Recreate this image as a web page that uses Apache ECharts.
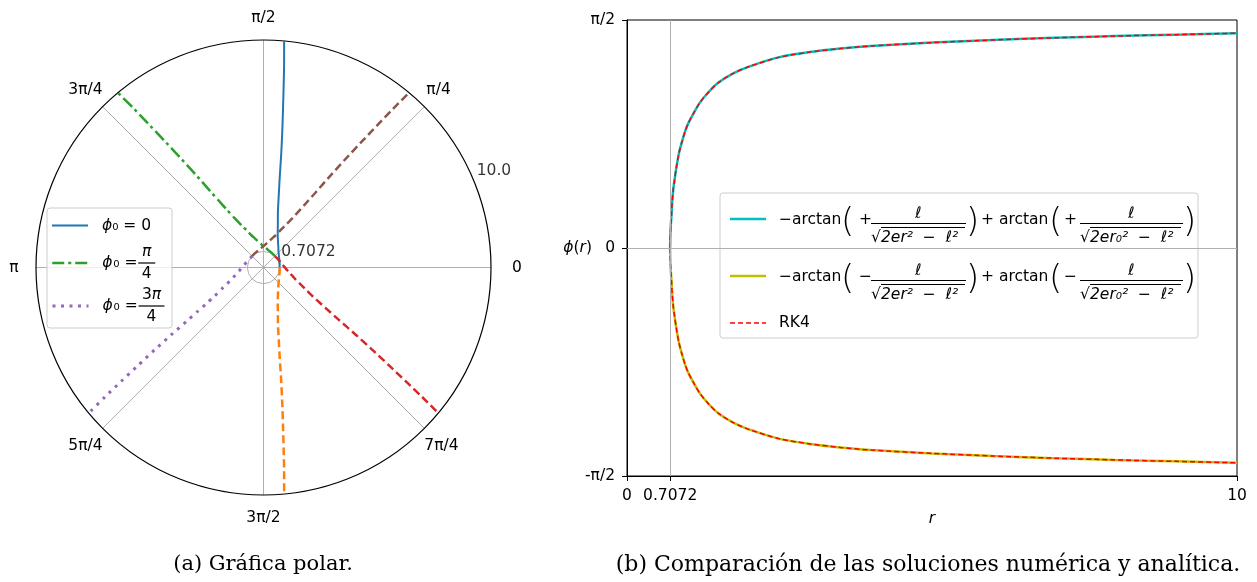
<!DOCTYPE html>
<html><head><meta charset="utf-8">
<script src="https://cdn.jsdelivr.net/npm/echarts@6/dist/echarts.min.js"></script>
<style>html,body{margin:0;padding:0;background:#fff}#c{width:1257px;height:582px}</style>
</head><body><div id="c"></div>
<script>
// ---------------- data ----------------
const r0 = 0.7072;
const rValues  = [0.7072, 0.71, 0.715, 0.72, 0.73, 0.74, 0.76, 0.78, 0.80, 0.85, 0.90, 0.95, 1.0, 1.1, 1.2, 1.35, 1.5, 1.75, 2.0, 2.5, 3.0, 3.5, 4.0, 5.0, 6.0, 7.0, 8.0, 9.0, 10.0];
const phiPlus  = [0, 0.08, 0.13, 0.17, 0.23, 0.31, 0.41, 0.47, 0.53, 0.65, 0.73, 0.80, 0.855, 0.935, 1.005, 1.08, 1.14, 1.205, 1.25, 1.315, 1.35, 1.374, 1.392, 1.415, 1.433, 1.448, 1.46, 1.47, 1.48];
const phiMinus = [0, -0.08, -0.13, -0.17, -0.23, -0.31, -0.41, -0.47, -0.53, -0.65, -0.73, -0.80, -0.855, -0.935, -1.005, -1.08, -1.14, -1.205, -1.25, -1.315, -1.35, -1.374, -1.392, -1.415, -1.433, -1.448, -1.46, -1.47, -1.48];
const rk4Plus  = [0, 0.08, 0.13, 0.17, 0.23, 0.31, 0.41, 0.47, 0.53, 0.65, 0.73, 0.80, 0.855, 0.935, 1.005, 1.08, 1.14, 1.205, 1.25, 1.315, 1.35, 1.374, 1.392, 1.415, 1.433, 1.448, 1.46, 1.47, 1.48];
const rk4Minus = [0, -0.08, -0.13, -0.17, -0.23, -0.31, -0.41, -0.47, -0.53, -0.65, -0.73, -0.80, -0.855, -0.935, -1.005, -1.08, -1.14, -1.205, -1.25, -1.315, -1.35, -1.374, -1.392, -1.415, -1.433, -1.448, -1.46, -1.47, -1.48];
const phi0Deg = [0, 45, 135];
const angleTickLabels = ['0', 'π/4', 'π/2', '3π/4', 'π', '5π/4', '3π/2', '7π/4'];
const rTickValues = [0.7072, 10.0];
const rTickLabels = ['0.7072', '10.0'];
const rLabelAngle = 22.5;
const xTickValues = [0, 0.7072, 10];
const xTickLabels = ['0', '0.7072', '10'];
const yTickLabels = ['-π/2', '0', 'π/2'];
const captions = ['(a) Gráfica polar.', '(b) Comparación de las soluciones numérica y analítica.'];

// ---------------- helpers ----------------
const FF = 'DejaVu Sans';
const FS = 15.5;
const DEG = 180 / Math.PI;
const norm = a => ((a % 360) + 360) % 360;
function traj(phi0, branch) { return rValues.map((r, i) => [r, norm(phi0 + branch[i] * DEG)]); }

const rich = {};
let kid = 0;
function T(text, st) {
  const k = 'k' + (kid++);
  rich[k] = Object.assign({ fontFamily: FF, fontSize: FS, color: '#000' }, st || {});
  return '{' + k + '|' + text + '}';
}
const BAR = (w, lh) => ({ width: w, height: 1.2, lineHeight: lh, backgroundColor: '#000' });

// left legend texts
function leftSimple() {
  return T(' ', { width: 9 }) + T('ϕ', { fontStyle: 'italic' }) + T('₀ = 0', {});
}
function leftFrac(numParts, den, bw) {
  let l1 = T(' ', { width: 45, lineHeight: 20 });
  numParts.forEach(p => { l1 += T(p[0], { align: 'center', lineHeight: 20, fontStyle: p[1] ? 'italic' : 'normal' }); });
  const l2 = T(' ', { width: 9, lineHeight: 2 }) + T('ϕ', { width: 11, lineHeight: 2, fontStyle: 'italic' }) +
             T('₀ =', { width: 25, lineHeight: 2 }) + T(' ', BAR(bw, 2));
  const l3 = T(' ', { width: 45, lineHeight: 20 }) + T(den, { align: 'center', lineHeight: 20 });
  return l1 + '\n' + l2 + '\n' + l3;
}
const leftLegendText = {
  'p0': leftSimple(),
  'p45': leftFrac([['π', true]], '4', 17),
  'p135': leftFrac([['3', false], ['π', true]], '4', 26)
};

// right legend texts
const W = { sp: 8, a1: 62, p1: 18, s1: 12, b1: 95, p2: 15, a2: 68, p3: 15, s2: 16, b2: 103, p4: 12 };
const PAREN = { fontSize: 34, fontWeight: 200, lineHeight: 4 };
function rightEntry(sign, den1, den2) {
  const pre = W.sp + W.a1 + W.p1 + W.s1;
  const mid = W.p2 + W.a2 + W.p3 + W.s2;
  const l1 = T(' ', { width: pre, lineHeight: 26 }) +
    T('ℓ', { width: W.b1, align: 'center', lineHeight: 26, fontStyle: 'italic', padding: [11, 0, 0, 0] }) +
    T(' ', { width: mid, align: 'center', lineHeight: 26 }) +
    T('ℓ', { width: W.b2, align: 'center', lineHeight: 26, fontStyle: 'italic', padding: [11, 0, 0, 0] }) +
    T(' ', { width: W.p4, align: 'center', lineHeight: 26 });
  const up = { lineHeight: 4, padding: [0, 0, 7, 0] };
  const l2 = T(' ', { width: W.sp, lineHeight: 4 }) +
    T('−arctan', Object.assign({ width: W.a1 }, up)) +
    T('(', Object.assign({ width: W.p1 }, PAREN)) +
    T(sign, Object.assign({ width: W.s1 }, up)) +
    T(' ', BAR(W.b1, 4)) +
    T(')', Object.assign({ width: W.p2 }, PAREN)) +
    T('+ arctan', Object.assign({ width: W.a2 }, up)) +
    T('(', Object.assign({ width: W.p3 }, PAREN)) +
    T(sign, Object.assign({ width: W.s2 }, up)) +
    T(' ', BAR(W.b2, 4)) +
    T(')', Object.assign({ width: W.p4 }, PAREN));
  const l2b = T(' ', { width: pre + 10, lineHeight: 4 }) + T(' ', BAR(84, 4)) +
    T(' ', { width: 1 + mid + 10, lineHeight: 4 }) + T(' ', BAR(91, 4)) + T(' ', { width: 2 + W.p4, lineHeight: 4 });
  const dn = { lineHeight: 13, padding: [3, 0, 0, 0] };
  const l3 = T(' ', { width: pre, lineHeight: 13 }) +
    T('√', Object.assign({ width: 10 }, dn)) +
    T(den1, Object.assign({ width: 85, fontStyle: 'italic' }, dn)) +
    T(' ', { width: mid, lineHeight: 13 }) +
    T('√', Object.assign({ width: 10 }, dn)) +
    T(den2, Object.assign({ width: 93, fontStyle: 'italic' }, dn)) +
    T(' ', { width: W.p4, lineHeight: 13 });
  return l1 + '\n' + l2 + '\n' + l2b + '\n' + l3;
}
const rightLegendText = {
  'plus': rightEntry('+', '2er²  −  ℓ²', '2er₀²  −  ℓ²'),
  'minus': rightEntry('−', '2er²  −  ℓ²', '2er₀²  −  ℓ²'),
  'RK4': T(' ', { width: 8 }) + T('RK4', {})
};

// angle-axis label styles (padding emulates centred placement)
const angRich = {
  e:  { padding: [0, 0, 0, 21] },
  n:  { padding: [0, 0, 14, 0] },
  w:  { padding: [0, 17.5, 0, 0] },
  s:  { padding: [15, 0, 0, 0] },
  ne: { padding: [0, 0, 8.5, 2] },
  nw: { padding: [0, 0, 8.5, 0] },
  sw: { padding: [9.5, 0, 0, 0] },
  se: { padding: [9.5, 0, 0, 0] }
};
Object.keys(angRich).forEach(k => Object.assign(angRich[k], { fontFamily: FF, fontSize: FS, color: '#000' }));
const angStyle = ['e', 'ne', 'n', 'nw', 'w', 'sw', 's', 'se'];

// ---------------- series ----------------
const polarDefs = [
  { name: 'p0',    phi0: phi0Deg[0], br: phiPlus,  color: '#1f77b4', type: 'solid',        width: 2 },
  { name: 'p0m',   phi0: phi0Deg[0], br: phiMinus, color: '#ff7f0e', type: [8, 4],         width: 2.5 },
  { name: 'p45',   phi0: phi0Deg[1], br: phiPlus,  color: '#2ca02c', type: [12, 4, 3, 4],  width: 2.5 },
  { name: 'p45m',  phi0: phi0Deg[1], br: phiMinus, color: '#d62728', type: [8, 4],         width: 2.5 },
  { name: 'p135',  phi0: phi0Deg[2], br: phiPlus,  color: '#9467bd', type: [3, 5.5],       width: 3 },
  { name: 'p135m', phi0: phi0Deg[2], br: phiMinus, color: '#8c564b', type: [8, 4],         width: 2.5 }
];
const series = polarDefs.map(d => ({
  name: d.name, type: 'line', coordinateSystem: 'polar', polarIndex: 0,
  data: traj(d.phi0, d.br), symbol: 'none', showSymbol: false, z: 2, smooth: 0.25,
  lineStyle: { color: d.color, width: d.width, type: d.type }, itemStyle: { color: d.color }
}));
series.push({
  name: 'rlabels', type: 'scatter', coordinateSystem: 'polar', polarIndex: 0,
  data: rTickValues.map((v, i) => ({ value: [v, rLabelAngle], label: { formatter: rTickLabels[i] } })),
  symbolSize: 1, itemStyle: { color: 'rgba(0,0,0,0)' }, z: 2, silent: true,
  label: { show: true, position: 'right', distance: 2.5, offset: [0, -9], color: '#000', fontFamily: FF, fontSize: FS }
});
series.push({
  name: 'guides', type: 'line', xAxisIndex: 0, yAxisIndex: 0, data: [[r0, 0]], symbol: 'none', showSymbol: false,
  lineStyle: { width: 0 }, z: 1, silent: true,
  markLine: { silent: true, symbol: ['none', 'none'], label: { show: false }, animation: false,
    lineStyle: { color: '#b0b0b0', width: 1, type: 'solid' }, emphasis: { disabled: true },
    data: [{ yAxis: 0 }, { xAxis: r0 }] }
});
const cart = [
  { name: 'plus',  d: phiPlus,  color: '#00bfbf', width: 2.5, type: 'solid' },
  { name: 'minus', d: phiMinus, color: '#bfbf00', width: 2.5, type: 'solid' },
  { name: 'RK4',   d: rk4Plus,  color: '#ff0000', width: 1.5, type: [5, 3] },
  { name: 'RK4',   d: rk4Minus, color: '#ff0000', width: 1.5, type: [5, 3] }
];
cart.forEach(c => series.push({
  name: c.name, type: 'line', xAxisIndex: 0, yAxisIndex: 0,
  data: rValues.map((r, i) => [r, c.d[i]]), symbol: 'none', showSymbol: false, z: 2,
  smooth: 0.25,
  lineStyle: { color: c.color, width: c.width, type: c.type }, itemStyle: { color: c.color }
}));

const axisText = { color: '#000', fontFamily: FF, fontSize: FS };
function mkLegend(name, left, iconY, H, lw, fmt, dy) {
  return {
    orient: 'vertical', left: left, top: iconY - H / 2 + dy, itemWidth: 36, itemHeight: H, padding: 0, itemGap: 0,
    selectedMode: false, z: 4, itemStyle: { opacity: 0 },
    data: [{ name: name, lineStyle: { width: lw } }], formatter: fmt,
    textStyle: { fontFamily: FF, fontSize: FS, color: '#000', rich: rich }
  };
}
const lf = n => leftLegendText[n];
const rf = n => rightLegendText[n];
const frame = (x, y, w, h) => ({ type: 'rect', z: 3, shape: { x: x, y: y, width: w, height: h, r: 3 },
  style: { fill: 'rgba(255,255,255,0.8)', stroke: '#cccccc', lineWidth: 1 } });

const option = {
  animation: false,
  textStyle: { fontFamily: FF },
  polar: [{ center: [263.5, 267.5], radius: 227.5 }],
  angleAxis: [{
    polarIndex: 0, type: 'value', min: 0, max: 360, interval: 45, startAngle: 0, clockwise: false,
    axisLine: { show: true, lineStyle: { color: '#000', width: 1.2 } },
    axisTick: { show: false },
    axisLabel: Object.assign({ margin: 0, rich: angRich,
      formatter: v => { const i = Math.round(v / 45) % 8; return '{' + angStyle[i] + '|' + angleTickLabels[i] + '}'; } }, axisText),
    splitLine: { show: true, lineStyle: { color: '#b0b0b0', width: 1 } }
  }],
  radiusAxis: [{
    polarIndex: 0, type: 'value', min: 0, max: 10,
    axisLine: { show: false }, axisTick: { show: false, customValues: [rTickValues[0]] },
    axisLabel: { show: false, customValues: [rTickValues[0]] },
    splitLine: { show: true, lineStyle: { color: '#b0b0b0', width: 1 } }
  }],
  grid: [{ left: 627, top: 20, right: 20, bottom: 106, show: true, borderColor: '#000', borderWidth: 1, backgroundColor: 'rgba(0,0,0,0)' }],
  xAxis: [{
    gridIndex: 0, type: 'value', min: 0, max: 10,
    axisLine: { show: true, onZero: false, lineStyle: { color: '#000' } },
    axisTick: { show: true, length: 5, customValues: xTickValues, lineStyle: { color: '#000' } },
    axisLabel: Object.assign({ margin: 12, customValues: xTickValues,
      formatter: v => { const i = xTickValues.findIndex(t => Math.abs(t - v) < 1e-6); return i < 0 ? '' : xTickLabels[i]; } }, axisText),
    splitLine: { show: false },
    name: 'r', nameLocation: 'middle', nameGap: 35,
    nameTextStyle: { fontFamily: FF, fontSize: FS, fontStyle: 'italic', color: '#000' }
  }],
  yAxis: [{
    gridIndex: 0, type: 'value', min: -Math.PI / 2, max: Math.PI / 2, interval: Math.PI / 2,
    axisLine: { show: true, onZero: false, lineStyle: { color: '#000' } },
    axisTick: { show: true, length: 5, lineStyle: { color: '#000' } },
    axisLabel: Object.assign({ margin: 12, formatter: v => yTickLabels[Math.round(v / (Math.PI / 2)) + 1] }, axisText),
    splitLine: { show: false },
    name: '{i|ϕ}({i|r})', nameLocation: 'middle', nameRotate: 0, nameGap: 35, nameMoveOverlap: false,
    nameTextStyle: { fontFamily: FF, fontSize: FS, color: '#000', rich: { i: { fontFamily: FF, fontSize: FS, fontStyle: 'italic' } } }
  }],
  legend: [
    mkLegend('p0', 51, 224, 44, 2, lf, 6),
    mkLegend('p45', 51, 260, 44, 2.5, lf, 6),
    mkLegend('p135', 51, 303, 44, 3, lf, 6),
    mkLegend('plus', 724, 218, 60, 2.5, rf, 7),
    mkLegend('minus', 724, 275, 60, 2.5, rf, 7),
    mkLegend('RK4', 724, 322, 60, 1.5, rf, 7)
  ],
  graphic: [
    frame(47, 208, 125, 120),
    frame(720, 193, 478, 145),
    { type: 'text', x: 263, y: 565, style: { text: captions[0], textAlign: 'center', textVerticalAlign: 'middle', font: '21px "DejaVu Serif"', fill: '#000' } },
    { type: 'text', x: 928, y: 565, style: { text: captions[1], textAlign: 'center', textVerticalAlign: 'middle', font: '22px "DejaVu Serif"', fill: '#000' } }
  ],
  series: series
};
const chart = echarts.init(document.getElementById('c'), null, { renderer: 'canvas' });
chart.setOption(option);
</script></body></html>
